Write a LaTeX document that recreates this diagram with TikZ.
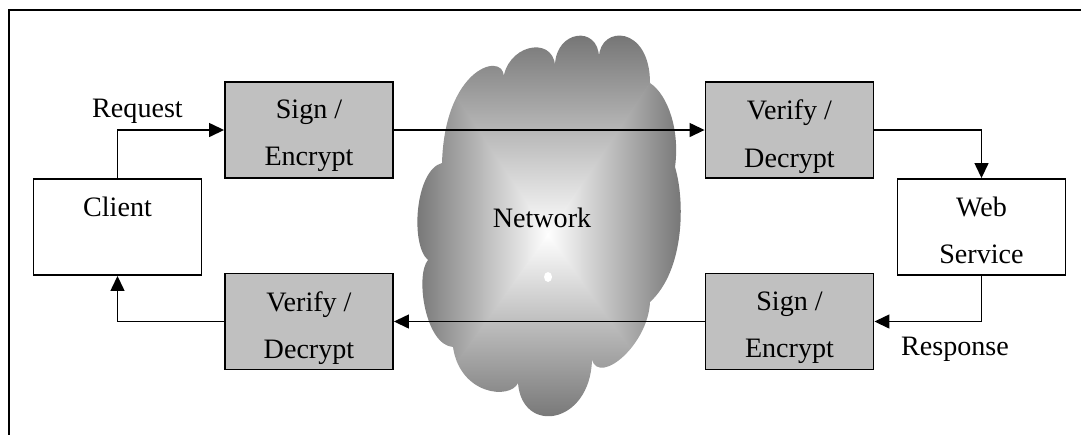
\documentclass[tikz,border=0pt]{standalone}
\usepackage{fontspec}
\setmainfont{Liberation Serif}
\usetikzlibrary{arrows.meta}
\definecolor{boxgray}{RGB}{192,192,192}
\definecolor{cloudedge}{RGB}{118,118,118}
\begin{document}
\begin{tikzpicture}[x=0.02cm,y=-0.02cm,
  box/.style={draw, line width=1.1pt, minimum width=3.36cm, minimum height=1.92cm, inner sep=0pt},
  secbox/.style={box, fill=boxgray},
  plainbox/.style={box, fill=white},
  txt/.style={font=\fontsize{16}{27}\selectfont, align=center, inner sep=0pt, anchor=north, yshift=-0.37cm},
  lbl/.style={font=\fontsize{16}{27}\selectfont, inner sep=0pt, anchor=base},
  flow/.style={line width=0.8pt, -{Triangle[length=0.3cm,width=0.28cm]}}]
\useasboundingbox (0,0) rectangle (1081,434);

% frame
\draw[line width=1.1pt] (9,440) -- (9,10) -- (1090,10);

% cloud outline
\def\cloudpath{(442,163) .. controls (445,60) and (512,50) .. (503,82)
  .. controls (505,45) and (552,35) .. (555,65)
  .. controls (556,30) and (598,25) .. (599,57)
  .. controls (600,25) and (650,25) .. (650,83)
  .. controls (668,95) and (680,130) .. (675,167)
  .. controls (685,200) and (685,270) .. (650,302)
  .. controls (648,345) and (600,385) .. (592,360)
  .. controls (590,425) and (522,435) .. (518,383)
  .. controls (510,400) and (460,395) .. (453,347)
  .. controls (425,345) and (415,275) .. (428,260)
  .. controls (410,245) and (415,170) .. (442,163) -- cycle}
\begin{scope}
  \clip \cloudpath;
  \shade[top color=cloudedge, bottom color=white] (415,35) -- (682,35) -- (548,236) -- cycle;
  \shade[left color=cloudedge, right color=white] (415,35) -- (549,235) -- (415,420) -- cycle;
  \shade[left color=white, right color=cloudedge] (682,35) -- (547,235) -- (682,420) -- cycle;
  \shade[top color=white, bottom color=cloudedge] (415,420) -- (548,234) -- (682,420) -- cycle;
\end{scope}
\fill[white] (548,277) ellipse (0.08cm and 0.1cm);
\node[lbl] (net) at (542,227) {Network};

% boxes
\node[plainbox] (client) at (117.5,227) {};
\node[secbox] (enc1) at (309,130) {};
\node[secbox] (ver1) at (789.5,130) {};
\node[plainbox] (web) at (981.5,227) {};
\node[secbox] (enc2) at (789.5,321.5) {};
\node[secbox] (dec2) at (309,321.5) {};

\node[txt] (client-t) at (client.north) {Client};
\node[txt] (enc1-t) at (enc1.north) {Sign /\\Encrypt};
\node[txt] (ver1-t) at (ver1.north) {Verify /\\Decrypt};
\node[txt] (web-t) at (web.north) {Web\\Service};
\node[txt] (enc2-t) at (enc2.north) {Sign /\\Encrypt};
\node[txt] (dec2-t) at (dec2.north) {Verify /\\Decrypt};

% message flow
\draw[flow] (client.north) |- (enc1.west);
\draw[flow] (enc1.east) -- (ver1.west);
\draw[flow] (ver1.east) -| (web.north);
\draw[flow] (web.south) |- (enc2.east);
\draw[flow] (enc2.west) -- (dec2.east);
\draw[flow] (dec2.west) -| (client.south);

\node[lbl] (req) at (137.5,117) {Request};
\node[lbl] (resp) at (955,355) {Response};
\end{tikzpicture}
\end{document}
